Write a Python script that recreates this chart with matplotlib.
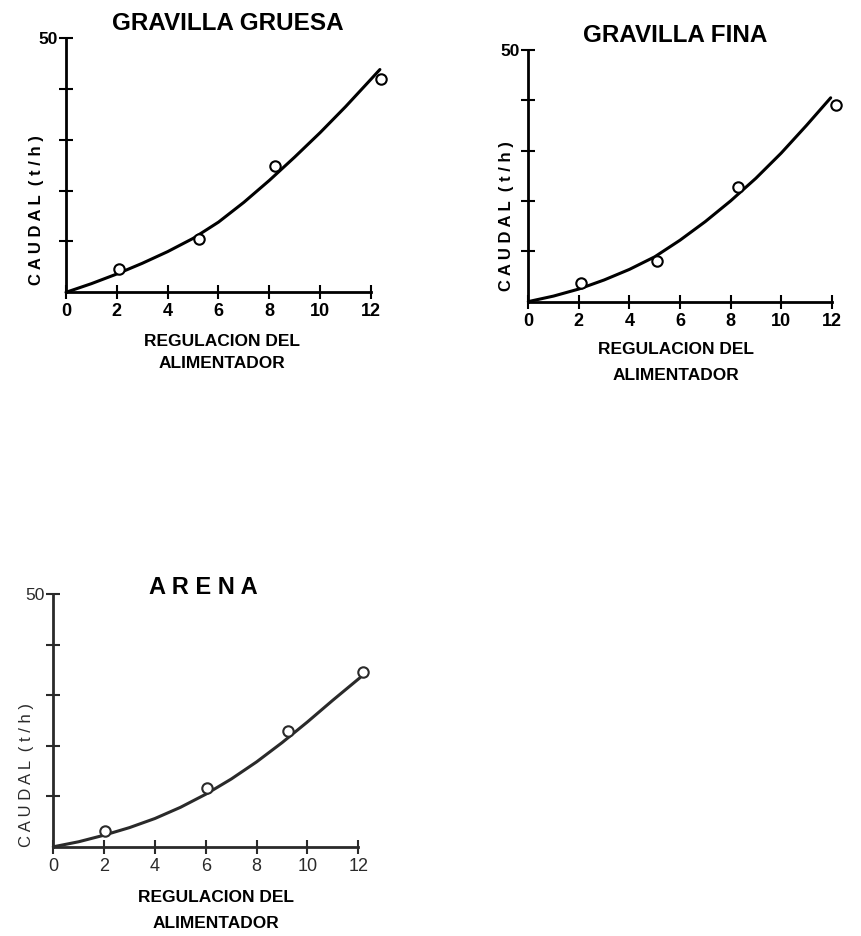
import matplotlib
matplotlib.use("Agg")
import matplotlib.pyplot as plt

plt.rcParams['font.family'] = ['Liberation Sans', 'DejaVu Sans']

# Measured points (feeder setting, flow in t/h)
gruesa_x = [2.07, 5.23, 8.23, 12.4]
gruesa_y = [4.6, 10.4, 24.9, 42.0]
fina_x = [2.08, 5.09, 8.28, 12.16]
fina_y = [3.6, 8.0, 22.7, 39.1]
arena_x = [2.04, 6.05, 9.24, 12.2]
arena_y = [3.2, 11.7, 22.9, 34.6]

# Fitted calibration curves read at each feeder setting
gruesa_cx = [0, 1, 2, 3, 4, 5, 6, 7, 8, 9, 10, 11, 12, 12.35]
gruesa_cy = [0, 1.7, 3.6, 5.7, 8.0, 10.6, 13.8, 17.7, 22.0, 26.6, 31.4, 36.5, 41.9, 43.8]
fina_cx = [0, 1, 2, 3, 4, 5, 6, 7, 8, 9, 10, 11, 11.96]
fina_cy = [0, 1.1, 2.5, 4.3, 6.4, 8.9, 12.2, 15.9, 20.0, 24.5, 29.5, 35.0, 40.5]
arena_cx = [0, 1, 2, 3, 4, 5, 6, 7, 8, 9, 10, 11, 12.08]
arena_cy = [0, 1.0, 2.3, 3.8, 5.6, 7.8, 10.4, 13.4, 16.8, 20.6, 24.7, 29.0, 33.5]

x_ticks = [0, 2, 4, 6, 8, 10, 12]
y_ticks = [10, 20, 30, 40, 50]

W, H = 861, 936
fig = plt.figure(figsize=(W / 100, H / 100), dpi=100)


def px(x, y):
    return x / W, 1 - y / H


def panel(left, top, right, bottom, cx, cy, mx, my, color, weight):
    ax = fig.add_axes([left / W, 1 - bottom / H, (right - left) / W, (bottom - top) / H])
    ax.set_xlim(0, 12)
    ax.set_ylim(0, 50)
    for s in ['top', 'right']:
        ax.spines[s].set_visible(False)
    for s in ['left', 'bottom']:
        ax.spines[s].set_linewidth(2.0)
        ax.spines[s].set_color(color)
    ax.set_xticks(x_ticks)
    ax.set_xticklabels([str(v) for v in x_ticks], fontsize=13, fontweight=weight, color=color)
    ax.set_yticks(y_ticks)
    ax.set_yticklabels(['' if v != 50 else '50' for v in y_ticks], fontsize=12.5,
                       fontweight=weight, color=color)
    ax.tick_params(direction='inout', length=10, width=1.5, color=color)
    ax.tick_params(axis='x', pad=3)
    ax.tick_params(axis='y', pad=1)
    ax.plot(cx, cy, color=color, lw=2.2, clip_on=False, solid_capstyle='round',
            solid_joinstyle='round')
    ax.plot(mx, my, 'o', ms=7.5, mfc='white', mec=color, mew=1.5, clip_on=False, zorder=5)
    return ax


panel(66, 38, 371, 292.3, gruesa_cx, gruesa_cy, gruesa_x, gruesa_y, 'black', 'bold')
panel(528.3, 50, 831.7, 301.6, fina_cx, fina_cy, fina_x, fina_y, 'black', 'bold')
panel(53.3, 594, 358.3, 846.8, arena_cx, arena_cy, arena_x, arena_y, '#2a2a2a', 'normal')

# Titles
fig.text(*px(228, 24), 'GRAVILLA GRUESA', fontsize=17.5, fontweight='bold', ha='center', va='center')
fig.text(*px(675, 36), 'GRAVILLA FINA', fontsize=17.5, fontweight='bold', ha='center', va='center')
fig.text(*px(203, 588), 'A R E N A', fontsize=17, fontweight='bold', ha='center', va='center')

# Axis labels
for (xc, y1, y2) in [(222, 341, 364), (676, 350, 375), (216, 897, 923)]:
    fig.text(*px(xc, y1), 'REGULACION DEL', fontsize=12.5, fontweight='bold', ha='center', va='center')
    fig.text(*px(xc, y2), 'ALIMENTADOR', fontsize=12.5, fontweight='bold', ha='center', va='center')

for (xc, yc, wt, col) in [(37, 210, 'bold', 'black'), (507, 216, 'bold', 'black'),
                          (27, 775, 'normal', '#2a2a2a')]:
    fig.text(*px(xc, yc), 'C A U D A L  ( t / h )', fontsize=12, fontweight=wt, color=col,
             rotation=90, ha='center', va='center')

fig.savefig('out.png', dpi=100)
